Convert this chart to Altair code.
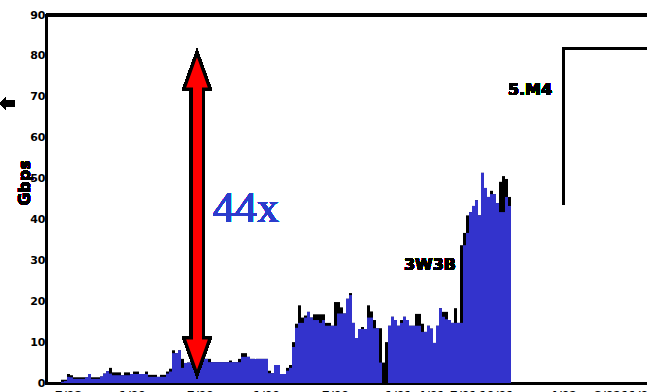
import altair as alt
import pandas as pd

# average traffic per bin (blue) and peak traffic per bin (black), Gbps
avg = [0, 0.3, 0.5, 1.5, 1.4, 1.0, 1.0, 1.0, 1.0, 1.4,
       2.2, 1.0, 1.0, 1.0, 1.6, 2.3, 2.9, 2.3, 1.9, 1.9,
       1.9, 1.9, 1.9, 1.9, 2.2, 2.2, 2.2, 2.2, 2.2, 2.2,
       1.5, 1.5, 1.5, 1.5, 1.5, 1.5, 2.3, 2.8, 7.3, 7.3,
       8.0, 3.7, 4.9, 5.0, 5.0, 5.0, 5.0, 5.2, 5.9, 5.9,
       5.1, 5.1, 5.1, 5.1, 5.1, 5.1, 5.1, 5.1, 5.1, 5.1,
       5.1, 6.4, 6.4, 6.4, 5.9, 5.9, 5.9, 5.9, 5.9, 5.9,
       2.4, 2.4, 4.4, 4.4, 2.2, 2.2, 3.0, 3.7, 8.8, 13.5,
       14.7, 14.7, 16.0, 17.4, 16.0, 15.4, 15.4, 14.7, 15.4, 14.0,
       14.0, 14.0, 14.0, 17.0, 17.0, 17.0, 20.6, 21.5, 14.7, 11.0,
       13.2, 13.2, 13.2, 16.0, 16.0, 13.4, 13.4, 5.0, 0, 0,
       14.0, 16.2, 15.4, 14.0, 14.7, 16.2, 15.4, 14.0, 14.0, 14.0,
       14.0, 12.5, 12.5, 14.0, 13.3, 9.8, 14.0, 18.3, 16.2, 15.6,
       15.4, 14.7, 14.7, 14.7, 14.7, 33.7, 36.7, 41.8, 43.3, 44.7,
       41.0, 51.4, 47.7, 45.5, 46.2, 46.2, 44.0, 41.8, 41.8, 45.5,
       43.3]
peak = [0, 0.8, 0.8, 2.2, 1.9, 1.4, 1.4, 1.4, 1.4, 1.4,
        2.2, 1.4, 1.4, 1.4, 1.6, 2.3, 2.9, 3.7, 2.6, 2.6,
        2.6, 1.9, 2.6, 2.6, 2.2, 2.8, 2.8, 2.2, 2.2, 2.8,
        2.0, 2.0, 2.0, 1.5, 2.0, 2.0, 2.8, 3.5, 8.0, 7.3,
        8.0, 5.9, 4.9, 5.0, 5.0, 5.0, 5.0, 5.2, 5.9, 5.9,
        5.9, 5.1, 5.1, 5.1, 5.1, 5.1, 5.1, 5.5, 5.1, 5.1,
        5.9, 7.3, 7.3, 6.4, 5.9, 5.9, 5.9, 5.9, 5.9, 5.9,
        3.0, 2.4, 4.4, 4.4, 2.2, 2.2, 3.7, 4.4, 10.0, 14.5,
        19.0, 16.0, 16.5, 17.4, 16.0, 16.8, 16.8, 16.8, 16.8, 14.7,
        14.7, 14.0, 19.8, 19.8, 18.5, 17.0, 20.6, 22.0, 14.7, 11.0,
        13.2, 13.7, 13.2, 19.0, 17.5, 15.4, 13.4, 13.4, 5.0, 10.0,
        14.0, 16.2, 15.4, 14.0, 15.4, 16.2, 15.4, 14.0, 14.0, 16.9,
        16.9, 14.5, 12.5, 14.0, 13.3, 9.8, 14.0, 18.3, 17.4, 17.4,
        15.4, 14.7, 18.3, 14.7, 33.7, 36.7, 41.0, 41.8, 43.3, 44.7,
        41.0, 51.4, 47.7, 45.5, 47.0, 46.2, 44.0, 49.2, 50.6, 49.9,
        45.5]
assert len(avg) == len(peak)

first_bin = 4          # index of the first bin on the time axis
x_end = 601 / 3        # time-axis extent in bins
x_ticks = [7.33, 28.67, 51.33, 73.33, 96.33, 117.33, 128.33, 139, 150, 172.33, 187, 197.33]
x_labels = ["7/98", "1/99", "7/99", "1/00", "7/00", "1/01", "4/01", "7/01", "10/01", "4/02", "8/02", "11/02"]
y_ticks = [0, 10, 20, 30, 40, 50, 60, 70, 80, 90]

df = pd.DataFrame({
    "b0": [first_bin + i for i in range(len(avg))],
    "b1": [first_bin + i + 1 for i in range(len(avg))],
    "avg": avg,
    "peak": peak,
})

W, H = 601, 368
xs = alt.Scale(domain=[0, x_end], nice=False, zero=False)
ys = alt.Scale(domain=[0, 90], nice=False)
label_expr = "[" + ",".join("'%s'" % s for s in x_labels) + "][indexof([" + ",".join(str(v) for v in x_ticks) + "], datum.value)]"
x_axis = alt.Axis(values=x_ticks, labelExpr=label_expr, title=None, ticks=False, labelPadding=6,
                  labelFontSize=11)
y_axis = alt.Axis(values=y_ticks, title=None, ticks=False, labelPadding=1, labelFontSize=11)

base = alt.Chart(df)
peak_layer = base.mark_rect(color="black").encode(
    x=alt.X("b0:Q", scale=xs, axis=x_axis), x2="b1",
    y=alt.Y("peak:Q", scale=ys, axis=y_axis), y2=alt.datum(0))
avg_layer = base.mark_rect(color="#3333cc").encode(
    x=alt.X("b0:Q", scale=xs, axis=x_axis), x2="b1",
    y=alt.Y("avg:Q", scale=ys, axis=y_axis), y2=alt.datum(0))

top_line = alt.Chart(df).mark_rule(color="black", strokeWidth=3).encode(
    x=alt.value(0), x2=alt.value(W), y=alt.value(0))
bracket_v = alt.Chart(df).mark_rule(color="black", strokeWidth=3).encode(
    x=alt.value(517.5), y=alt.value(32), y2=alt.value(190))
bracket_h = alt.Chart(df).mark_rule(color="black", strokeWidth=3).encode(
    x=alt.value(516), x2=alt.value(W), y=alt.value(33.5))

txt_44 = alt.Chart(df).mark_text(text="44x", font="Liberation Serif", fontSize=44, color="#2b3ccc",
                                 align="left", baseline="alphabetic").encode(
    x=alt.value(167), y=alt.value(207))
txt_a = alt.Chart(df).mark_text(text="3W3B", font="DejaVu Sans", fontWeight="bold", fontSize=16,
                                color="black", align="center", baseline="middle").encode(
    x=alt.value(384), y=alt.value(250))
txt_b = alt.Chart(df).mark_text(text="5.M4", font="DejaVu Sans", fontWeight="bold", fontSize=16,
                                color="black", align="center", baseline="middle").encode(
    x=alt.value(484), y=alt.value(75))

shaft_black = alt.Chart(df).mark_rule(color="black", strokeWidth=16).encode(
    x=alt.value(151), y=alt.value(71), y2=alt.value(326))
head_up = alt.Chart(df).mark_point(shape="M0,-1L0.72,1L-0.72,1Z", size=1296, filled=True,
                                   fill="red", stroke="black", strokeWidth=3, opacity=1).encode(
    x=alt.value(151), y=alt.value(56))
head_down = alt.Chart(df).mark_point(shape="M0,1L0.72,-1L-0.72,-1Z", size=1296, filled=True,
                                     fill="red", stroke="black", strokeWidth=3, opacity=1).encode(
    x=alt.value(151), y=alt.value(341))
shaft_red = alt.Chart(df).mark_rule(color="red", strokeWidth=9).encode(
    x=alt.value(151.5), y=alt.value(69), y2=alt.value(329))

left_glyph = alt.Chart(df).mark_point(
    shape="M-1,0L-0.2,-0.8L-0.2,-0.4L1,-0.4L1,0.4L-0.2,0.4L-0.2,0.8Z",
    size=225, filled=True, fill="black", strokeWidth=0, opacity=1).encode(
    x=alt.value(-38.5), y=alt.value(88.5))
y_title = alt.Chart(df).mark_text(text="Gbps", font="DejaVu Sans", fontWeight="bold", fontSize=16,
                                  color="black", angle=270, align="center", baseline="middle").encode(
    x=alt.value(-21.5), y=alt.value(168))

chart = alt.layer(
    peak_layer, avg_layer, top_line, bracket_v, bracket_h, txt_44, txt_a, txt_b,
    shaft_black, head_up, head_down, shaft_red, left_glyph, y_title
).properties(
    width=W, height=H,
    autosize=alt.AutoSizeParams(type="none"),
    padding={"left": 46, "top": 15, "right": 0, "bottom": 9},
    background="white",
).configure_view(stroke=None).configure_axis(
    domainColor="black", domainWidth=3, domainCap="square", grid=False,
    labelFont="DejaVu Sans", labelFontWeight="bold", labelColor="black",
)

chart.save("out.html", embed_options={"renderer": "svg", "actions": False})
